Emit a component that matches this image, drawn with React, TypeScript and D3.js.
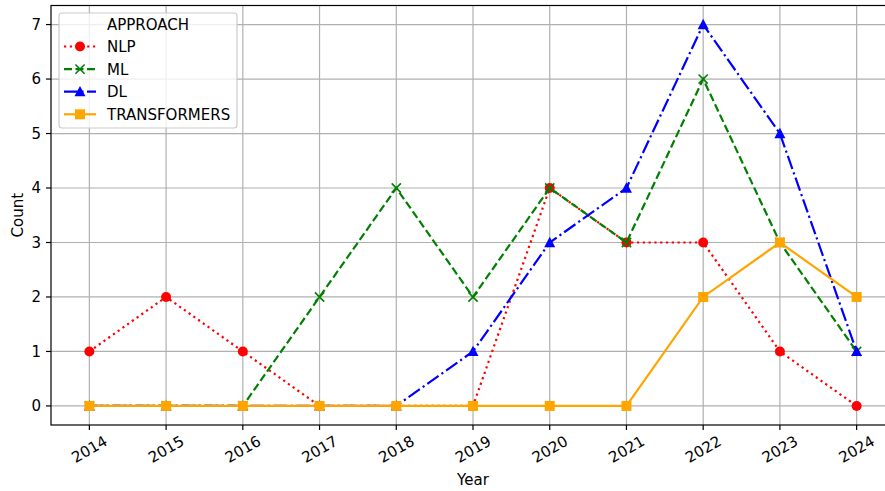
import React, { useEffect, useRef } from "react";
import * as d3 from "d3";

const years = [2014, 2015, 2016, 2017, 2018, 2019, 2020, 2021, 2022, 2023, 2024];
const nlp = [1, 2, 1, 0, 0, 0, 4, 3, 3, 1, 0];
const ml = [0, 0, 0, 2, 4, 2, 4, 3, 6, 3, 1];
const dl = [0, 0, 0, 0, 0, 1, 3, 4, 7, 5, 1];
const transformers = [0, 0, 0, 0, 0, 0, 0, 0, 2, 3, 2];
const yTicks = [0, 1, 2, 3, 4, 5, 6, 7];

const series = [
  { name: "NLP", values: nlp, color: "red", dash: "2.2,3.6", marker: "circle" },
  { name: "ML", values: ml, color: "green", dash: "8,3.5", marker: "x" },
  { name: "DL", values: dl, color: "blue", dash: "13.8,3.5,2.2,3.5", marker: "triangle" },
  { name: "TRANSFORMERS", values: transformers, color: "orange", dash: null, marker: "square" },
];

const W = 885;
const H = 491;
const FONT = "DejaVu Sans, sans-serif";
const FS = 15;

function drawMarker(g: any, kind: string, x: number, y: number, color: string) {
  if (kind === "circle") {
    g.append("circle").attr("cx", x).attr("cy", y).attr("r", 5).attr("fill", color);
  } else if (kind === "square") {
    g.append("rect").attr("x", x - 5).attr("y", y - 5).attr("width", 10).attr("height", 10).attr("fill", color);
  } else if (kind === "triangle") {
    const r = 5.8;
    g.append("path")
      .attr("d", `M${x},${y - r}L${x + r * 0.95},${y + r * 0.8}L${x - r * 0.95},${y + r * 0.8}Z`)
      .attr("fill", color);
  } else if (kind === "x") {
    const r = 4.6;
    g.append("path")
      .attr("d", `M${x - r},${y - r}L${x + r},${y + r}M${x - r},${y + r}L${x + r},${y - r}`)
      .attr("stroke", color)
      .attr("stroke-width", 1.6)
      .attr("fill", "none");
  }
}

const App = () => {
  const ref = useRef<SVGSVGElement>(null);

  useEffect(() => {
    const svg = d3.select(ref.current);
    svg.selectAll("*").remove();

    const left = 51, right = 895, top = 5.5, bottom = 425;
    const x = d3.scaleLinear().domain([2013.5, 2024.5]).range([left, right]);
    const y = d3.scaleLinear().domain([-0.35, 7.35]).range([bottom, top]);

    svg.append("rect").attr("width", W).attr("height", H).attr("fill", "white");

    // grid
    const grid = svg.append("g").attr("stroke", "#b0b0b0").attr("stroke-width", 1.2);
    years.forEach((yr) => {
      grid.append("line").attr("x1", x(yr)).attr("x2", x(yr)).attr("y1", top).attr("y2", bottom);
    });
    yTicks.forEach((t) => {
      grid.append("line").attr("x1", left).attr("x2", right).attr("y1", y(t)).attr("y2", y(t));
    });

    // lines + markers
    series.forEach((s) => {
      const line = d3
        .line<number>()
        .x((d, i) => x(years[i]))
        .y((d) => y(d));
      const p = svg
        .append("path")
        .datum(s.values)
        .attr("d", line)
        .attr("fill", "none")
        .attr("stroke", s.color)
        .attr("stroke-width", 2.2);
      if (s.dash) p.attr("stroke-dasharray", s.dash);
      const mg = svg.append("g");
      s.values.forEach((v, i) => drawMarker(mg, s.marker, x(years[i]), y(v), s.color));
    });

    // spines
    svg.append("rect")
      .attr("x", left).attr("y", top)
      .attr("width", right - left).attr("height", bottom - top)
      .attr("fill", "none").attr("stroke", "black").attr("stroke-width", 1.2);

    // x ticks
    years.forEach((yr) => {
      svg.append("line").attr("x1", x(yr)).attr("x2", x(yr)).attr("y1", bottom).attr("y2", bottom + 5)
        .attr("stroke", "black").attr("stroke-width", 1.2);
      svg.append("text")
        .attr("transform", `translate(${x(yr)},${449}) rotate(-30)`)
        .attr("text-anchor", "middle")
        .attr("dy", "0.36em")
        .attr("font-family", FONT)
        .attr("font-size", FS)
        .text(yr);
    });

    // y ticks
    yTicks.forEach((t) => {
      svg.append("line").attr("x1", left - 5).attr("x2", left).attr("y1", y(t)).attr("y2", y(t))
        .attr("stroke", "black").attr("stroke-width", 1.2);
      svg.append("text")
        .attr("x", left - 10).attr("y", y(t))
        .attr("text-anchor", "end")
        .attr("dy", "0.36em")
        .attr("font-family", FONT)
        .attr("font-size", FS)
        .text(t);
    });

    svg.append("text")
      .attr("x", 473).attr("y", 485)
      .attr("text-anchor", "middle")
      .attr("font-family", FONT).attr("font-size", FS)
      .text("Year");
    svg.append("text")
      .attr("transform", `translate(22.5,${(top + bottom) / 2}) rotate(-90)`)
      .attr("text-anchor", "middle")
      .attr("font-family", FONT).attr("font-size", FS)
      .text("Count");

    // legend
    const lg = svg.append("g");
    lg.append("rect")
      .attr("x", 59).attr("y", 13).attr("width", 178).attr("height", 115).attr("rx", 3)
      .attr("fill", "white").attr("fill-opacity", 0.8)
      .attr("stroke", "#cccccc").attr("stroke-width", 1.2);
    lg.append("text")
      .attr("x", 148).attr("y", 25).attr("dy", "0.36em")
      .attr("text-anchor", "middle")
      .attr("font-family", FONT).attr("font-size", FS)
      .text("APPROACH");
    series.forEach((s, i) => {
      const ly = 46.5 + i * 22.6;
      const l = lg.append("line")
        .attr("x1", 64).attr("x2", 96).attr("y1", ly).attr("y2", ly)
        .attr("stroke", s.color).attr("stroke-width", 2.2);
      if (s.dash) l.attr("stroke-dasharray", s.dash);
      drawMarker(lg, s.marker, 80, ly, s.color);
      lg.append("text")
        .attr("x", 107).attr("y", ly).attr("dy", "0.36em")
        .attr("font-family", FONT).attr("font-size", FS)
        .text(s.name);
    });
  }, []);

  return <svg ref={ref} width={W} height={H} style={{ display: "block", position: "absolute", left: 0, top: 0 }} />;
};

export default App;
